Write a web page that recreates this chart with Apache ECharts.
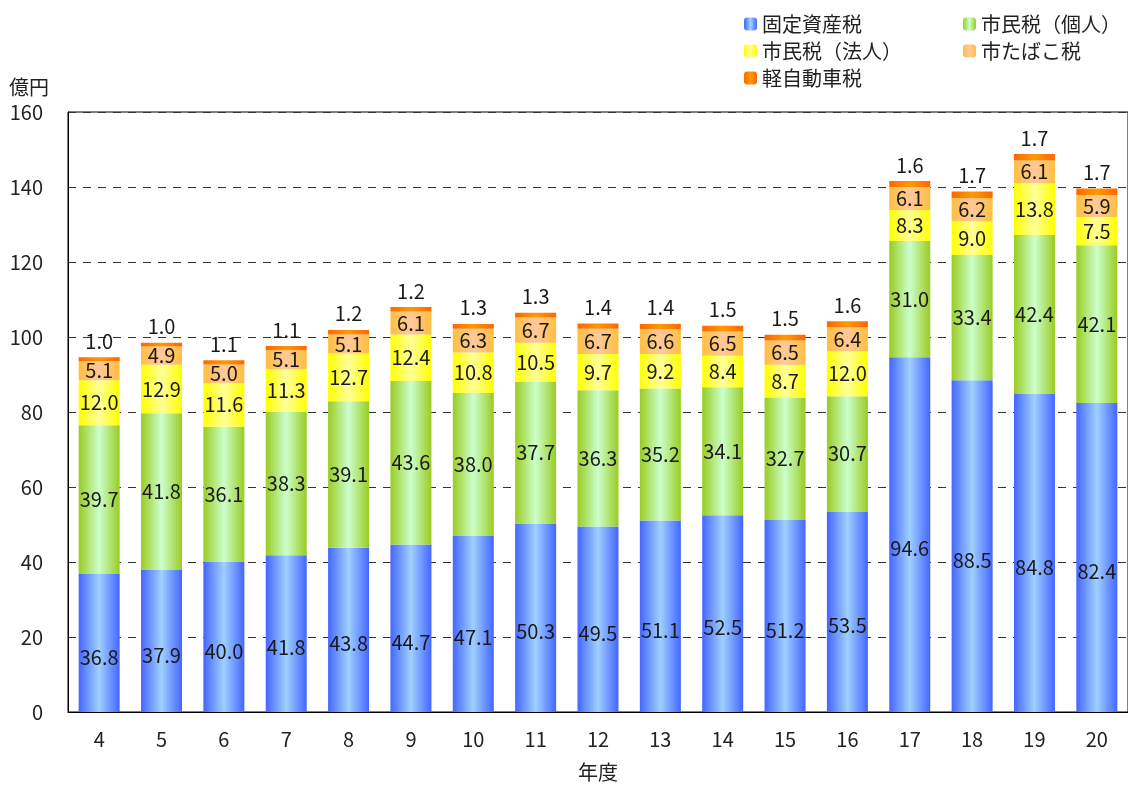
<!DOCTYPE html>
<html>
<head>
<meta charset="utf-8">
<script src="https://cdn.jsdelivr.net/npm/echarts@6/dist/echarts.min.js"></script>
<style>
html,body{margin:0;padding:0;background:#fff;}
#c{width:1128px;height:787px;}
</style>
</head>
<body>
<div id="c"></div>
<script>
const categories = ['4','5','6','7','8','9','10','11','12','13','14','15','16','17','18','19','20'];
const kotei = [36.8,37.9,40.0,41.8,43.8,44.7,47.1,50.3,49.5,51.1,52.5,51.2,53.5,94.6,88.5,84.8,82.4];
const kojin = [39.7,41.8,36.1,38.3,39.1,43.6,38.0,37.7,36.3,35.2,34.1,32.7,30.7,31.0,33.4,42.4,42.1];
const hojin = [12.0,12.9,11.6,11.3,12.7,12.4,10.8,10.5,9.7,9.2,8.4,8.7,12.0,8.3,9.0,13.8,7.5];
const tabako = [5.1,4.9,5.0,5.1,5.1,6.1,6.3,6.7,6.7,6.6,6.5,6.5,6.4,6.1,6.2,6.1,5.9];
const kei = [1.0,1.0,1.1,1.1,1.2,1.2,1.3,1.3,1.4,1.4,1.5,1.5,1.6,1.6,1.7,1.7,1.7];
const yTicks = {min:0, max:160, interval:20};
const names = ['固定資産税','市民税（個人）','市民税（法人）','市たばこ税','軽自動車税'];

const FONT = '"Noto Sans CJK JP", "Noto Sans", sans-serif';
function grad(edge, mid){
  return new echarts.graphic.LinearGradient(0,0,1,0,[
    {offset:0,color:edge},{offset:0.5,color:mid},{offset:1,color:edge}
  ]);
}
const colors = [
  grad('#4466ff','#9fd0ff'),
  grad('#99cc22','#ccffcc'),
  grad('#ffff00','#ffff99'),
  grad('#ffbf40','#ffc99a'),
  grad('#ff6600','#ff9900')
];
const datasets = [kotei,kojin,hojin,tabako,kei];
const lbl = {show:true, color:'#1a1a1a', fontSize:20, fontFamily:FONT, formatter:p=>p.value.toFixed(1)};

const series = datasets.map((d,i)=>({
  name:names[i], type:'bar', stack:'total', data:d, barWidth:41,
  itemStyle:{color:colors[i]},
  label: i===4 ? Object.assign({position:'top', distance:6}, lbl)
       : i===0 ? Object.assign({position:'inside', offset:[0,14]}, lbl)
       : Object.assign({position:'inside'}, lbl),
  emphasis:{disabled:true},
  animation:false
}));

const chart = echarts.init(document.getElementById('c'), null, {renderer:'canvas'});
chart.setOption({
  animation:false,
  textStyle:{fontFamily:FONT},
  title:{text:'億円', left:9, top:77, padding:0, textStyle:{fontSize:20, fontWeight:'normal', color:'#222', fontFamily:FONT}},
  legend:[
    {data:[names[0],names[2],names[4]], orient:'vertical', left:744, top:14, padding:0, itemWidth:13, itemHeight:13, itemGap:7,
     textStyle:{fontSize:20, color:'#222', fontFamily:FONT}, selectedMode:false},
    {data:[names[1],names[3]], orient:'vertical', left:963, top:14, padding:0, itemWidth:13, itemHeight:13, itemGap:7,
     textStyle:{fontSize:20, color:'#222', fontFamily:FONT}, selectedMode:false}
  ],
  grid:{left:68, right:-8, top:112, bottom:71, show:true, borderColor:'#000', borderWidth:1},
  xAxis:{
    type:'category', data:categories,
    name:'年度', nameLocation:'middle', nameGap:50,
    nameTextStyle:{fontSize:20, color:'#222', fontFamily:FONT},
    axisLine:{lineStyle:{color:'#000', width:1}},
    axisTick:{inside:true, length:6, lineStyle:{color:'#000'}},
    axisLabel:{fontSize:20, color:'#222', margin:17, fontFamily:FONT}
  },
  yAxis:{
    type:'value', min:yTicks.min, max:yTicks.max, interval:yTicks.interval,
    axisLine:{show:true, lineStyle:{color:'#000', width:1}},
    axisTick:{show:false},
    axisLabel:{fontSize:20, color:'#222', margin:25, fontFamily:FONT},
    splitLine:{lineStyle:{color:'#333', type:[8,7], width:1}}
  },
  series:series
});
</script>
</body>
</html>
